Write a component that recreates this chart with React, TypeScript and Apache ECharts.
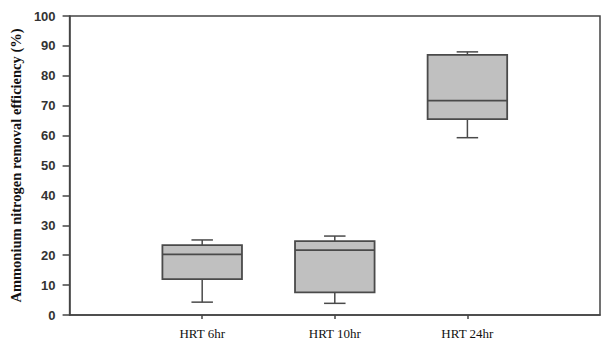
import React, { useEffect, useRef } from "react";
import * as echarts from "echarts";

const categories = ["", "HRT 6hr", "HRT 10hr", "HRT 24hr", ""];
const groups = ["HRT 6hr", "HRT 10hr", "HRT 24hr"];
const whiskerLow = [4.3, 3.9, 59.3];
const q1 = [12.0, 7.6, 65.5];
const median = [20.3, 21.7, 71.7];
const q3 = [23.4, 24.7, 87.0];
const whiskerHigh = [25.1, 26.4, 88.0];
const yTicks = [0, 10, 20, 30, 40, 50, 60, 70, 80, 90, 100];

export default function App() {
  const ref = useRef<HTMLDivElement>(null);
  useEffect(() => {
    if (!ref.current) return;
    const chart = echarts.init(ref.current, null, { renderer: "svg" });
    const data = groups.map((g, i) => [
      categories.indexOf(g),
      whiskerLow[i],
      q1[i],
      median[i],
      q3[i],
      whiskerHigh[i],
    ]);
    const stroke = "#4a4a4a";
    chart.setOption({
      animation: false,
      grid: {
        left: 60,
        right: -5,
        top: 16,
        bottom: 27,
        show: true,
        borderColor: "#444",
        borderWidth: 1.5,
      },
      xAxis: {
        type: "category",
        data: categories,
        boundaryGap: false,
        axisLine: { lineStyle: { color: "#444", width: 1.5 } },
        axisTick: {
          length: 4,
          interval: (i: number) => categories[i] !== "",
          lineStyle: { color: "#444", width: 1.5 },
        },
        axisLabel: {
          interval: 0,
          margin: 12,
          fontFamily: "Liberation Serif",
          fontSize: 13,
          color: "#111",
        },
        splitLine: { show: false },
      },
      yAxis: {
        type: "value",
        min: yTicks[0],
        max: yTicks[yTicks.length - 1],
        interval: 10,
        name: "Ammonium nitrogen removal efficiency (%)",
        nameLocation: "middle",
        nameGap: 45,
        nameTextStyle: {
          fontFamily: "Liberation Serif",
          fontWeight: "bold",
          fontSize: 14.5,
          color: "#111",
        },
        axisLine: { show: true, lineStyle: { color: "#444", width: 1.5 } },
        axisTick: { show: true, length: 7, lineStyle: { color: "#444", width: 1.5 } },
        axisLabel: {
          margin: 14,
          fontFamily: "Liberation Sans",
          fontWeight: "bold",
          fontSize: 13,
          color: "#333",
        },
        splitLine: { show: false },
      },
      series: [
        {
          type: "custom",
          data,
          encode: { x: 0, y: [1, 2, 3, 4, 5] },
          renderItem: (params: any, api: any) => {
            const x = api.value(0);
            const lo = api.coord([x, api.value(1)]);
            const b1 = api.coord([x, api.value(2)]);
            const md = api.coord([x, api.value(3)]);
            const b3 = api.coord([x, api.value(4)]);
            const hi = api.coord([x, api.value(5)]);
            const bw = api.size([1, 0])[0] * 0.6;
            const cw = bw * 0.27;
            const cx = lo[0];
            const ls = { stroke, lineWidth: 1.5 };
            return {
              type: "group",
              children: [
                { type: "line", shape: { x1: cx, y1: b1[1], x2: cx, y2: lo[1] }, style: ls },
                { type: "line", shape: { x1: cx, y1: b3[1], x2: cx, y2: hi[1] }, style: ls },
                { type: "line", shape: { x1: cx - cw / 2, y1: lo[1], x2: cx + cw / 2, y2: lo[1] }, style: ls },
                { type: "line", shape: { x1: cx - cw / 2, y1: hi[1], x2: cx + cw / 2, y2: hi[1] }, style: ls },
                {
                  type: "rect",
                  shape: { x: cx - bw / 2, y: b3[1], width: bw, height: b1[1] - b3[1] },
                  style: { fill: "#c0c0c0", stroke, lineWidth: 1.8 },
                },
                { type: "line", shape: { x1: cx - bw / 2, y1: md[1], x2: cx + bw / 2, y2: md[1] }, style: { stroke, lineWidth: 1.8 } },
              ],
            };
          },
        },
      ],
    });
    return () => chart.dispose();
  }, []);
  return <div ref={ref} style={{ width: 603, height: 342, position: "absolute", left: 0, top: 0 }} />;
}
